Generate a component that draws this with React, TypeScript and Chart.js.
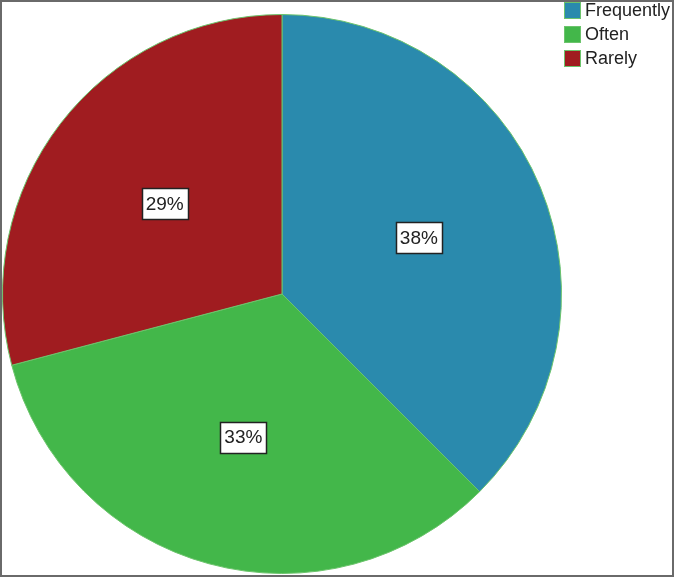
import React, { useEffect, useRef } from "react";
import { Chart, registerables } from "chart.js";

Chart.register(...registerables);

const categories = ["Frequently", "Often", "Rarely"];
const values = [37.5, 33.4, 29.1];
const labelTexts = ["38%", "33%", "29%"];
const colors = ["#2a8aad", "#43b74a", "#a01c20"];

const overlayPlugin = {
  id: "overlay",
  afterDatasetsDraw(chart: any) {
    const ctx = chart.ctx;
    const meta = chart.getDatasetMeta(0);
    ctx.save();
    ctx.font = '19px "Liberation Sans", Arial, sans-serif';
    ctx.textAlign = "center";
    ctx.textBaseline = "middle";
    meta.data.forEach((arc: any, i: number) => {
      const p = arc.getProps(["x", "y", "startAngle", "endAngle", "outerRadius"], true);
      const mid = (p.startAngle + p.endAngle) / 2;
      const r = p.outerRadius * 0.53;
      const cx = p.x + Math.cos(mid) * r;
      const cy = p.y + Math.sin(mid) * r;
      const t = labelTexts[i];
      const w = Math.round(ctx.measureText(t).width + 8);
      const h = 31;
      const bx = Math.round(cx - w / 2) + 0.5;
      const by = Math.round(cy - h / 2) + 0.5;
      ctx.fillStyle = "#ffffff";
      ctx.fillRect(bx, by, w, h);
      ctx.strokeStyle = "#222222";
      ctx.lineWidth = 1.5;
      ctx.strokeRect(bx, by, w, h);
      ctx.fillStyle = "#222222";
      ctx.fillText(t, cx, cy + 1);
    });
    // legend
    ctx.font = '18px "Liberation Sans", Arial, sans-serif';
    ctx.textAlign = "left";
    ctx.textBaseline = "middle";
    categories.forEach((c, i) => {
      const y = 2 + i * 24;
      ctx.fillStyle = colors[i];
      ctx.fillRect(564, y, 17, 17);
      ctx.strokeStyle = "#6cc46c";
      ctx.lineWidth = 1;
      ctx.strokeRect(564.5, y + 0.5, 16, 16);
      ctx.fillStyle = "#222222";
      ctx.fillText(c, 585, y + 9);
    });
    // frame
    ctx.strokeStyle = "#6a6a6a";
    ctx.lineWidth = 2;
    ctx.strokeRect(1, 1, chart.width - 2, chart.height - 2);
    ctx.restore();
  },
};

export default function App() {
  const ref = useRef<HTMLCanvasElement>(null);
  useEffect(() => {
    document.body.style.margin = "0";
    const chart = new Chart(ref.current!, {
      type: "pie",
      data: {
        labels: categories,
        datasets: [
          {
            data: values,
            backgroundColor: colors,
            borderColor: "#6cc46c",
            borderWidth: 1,
          },
        ],
      },
      options: {
        responsive: false,
        animation: false,
        layout: { padding: { left: 2, top: 14, right: 112, bottom: 3 } },
        plugins: {
          legend: { display: false },
          tooltip: { enabled: false },
        },
      },
      plugins: [overlayPlugin],
    });
    return () => chart.destroy();
  }, []);
  return <canvas ref={ref} width={674} height={577} style={{ display: "block" }} />;
}
